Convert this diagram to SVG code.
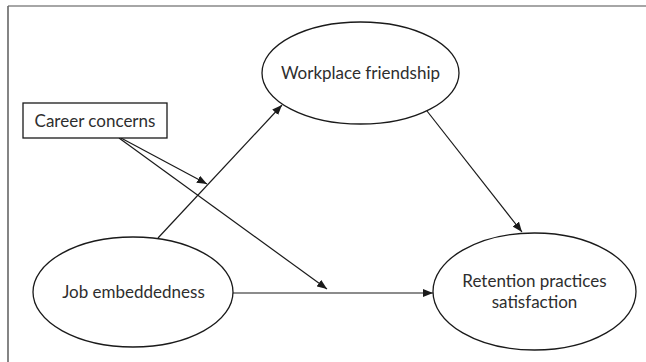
<svg xmlns="http://www.w3.org/2000/svg" width="646" height="362" viewBox="0 0 646 362">
<style>
.node{fill:#fff;stroke:#1a1a1a;stroke-width:1.3}
.lbl{font-family:Lato,"Liberation Sans",sans-serif;font-size:17px;fill:#2e2e2e;text-anchor:middle}
.edge{stroke:#1a1a1a;stroke-width:1.2;fill:none;marker-end:url(#ah)}
</style>
<defs>
<marker id="ah" viewBox="0 0 10 8" refX="10" refY="4" markerWidth="10" markerHeight="8" markerUnits="userSpaceOnUse" orient="auto">
<path d="M0,0 L10,4 L0,8 Z" fill="#1a1a1a"/>
</marker>
</defs>
<rect width="646" height="362" fill="#fff"/>
<g id="frame">
<line x1="8" y1="6" x2="646" y2="6" stroke="#888" stroke-width="1.6"/>
<line x1="8" y1="6" x2="8" y2="362" stroke="#666" stroke-width="1.6"/>
</g>
<g id="connectors">
<line class="edge" x1="158" y1="238" x2="282" y2="105"/>
<line class="edge" x1="427" y1="111" x2="522" y2="232"/>
<line class="edge" x1="233" y1="293" x2="433" y2="293"/>
<line class="edge" x1="121" y1="138" x2="207" y2="184"/>
<line class="edge" x1="119" y1="138" x2="327" y2="289"/>
</g>
<g id="workplace">
<ellipse class="node" cx="360.5" cy="73" rx="98.5" ry="51"/>
<text class="lbl" x="360.5" y="79">Workplace friendship</text>
</g>
<g id="career">
<rect class="node" x="23" y="103" width="144" height="35"/>
<text class="lbl" x="95" y="127">Career concerns</text>
</g>
<g id="job">
<ellipse class="node" cx="133" cy="292" rx="100" ry="55"/>
<text class="lbl" x="133.5" y="298">Job embeddedness</text>
</g>
<g id="retention">
<ellipse class="node" cx="534.5" cy="291.5" rx="101.5" ry="58.5"/>
<text class="lbl" x="534.5" y="286.5">Retention practices</text>
<text class="lbl" x="534.5" y="308">satisfaction</text>
</g>
</svg>
